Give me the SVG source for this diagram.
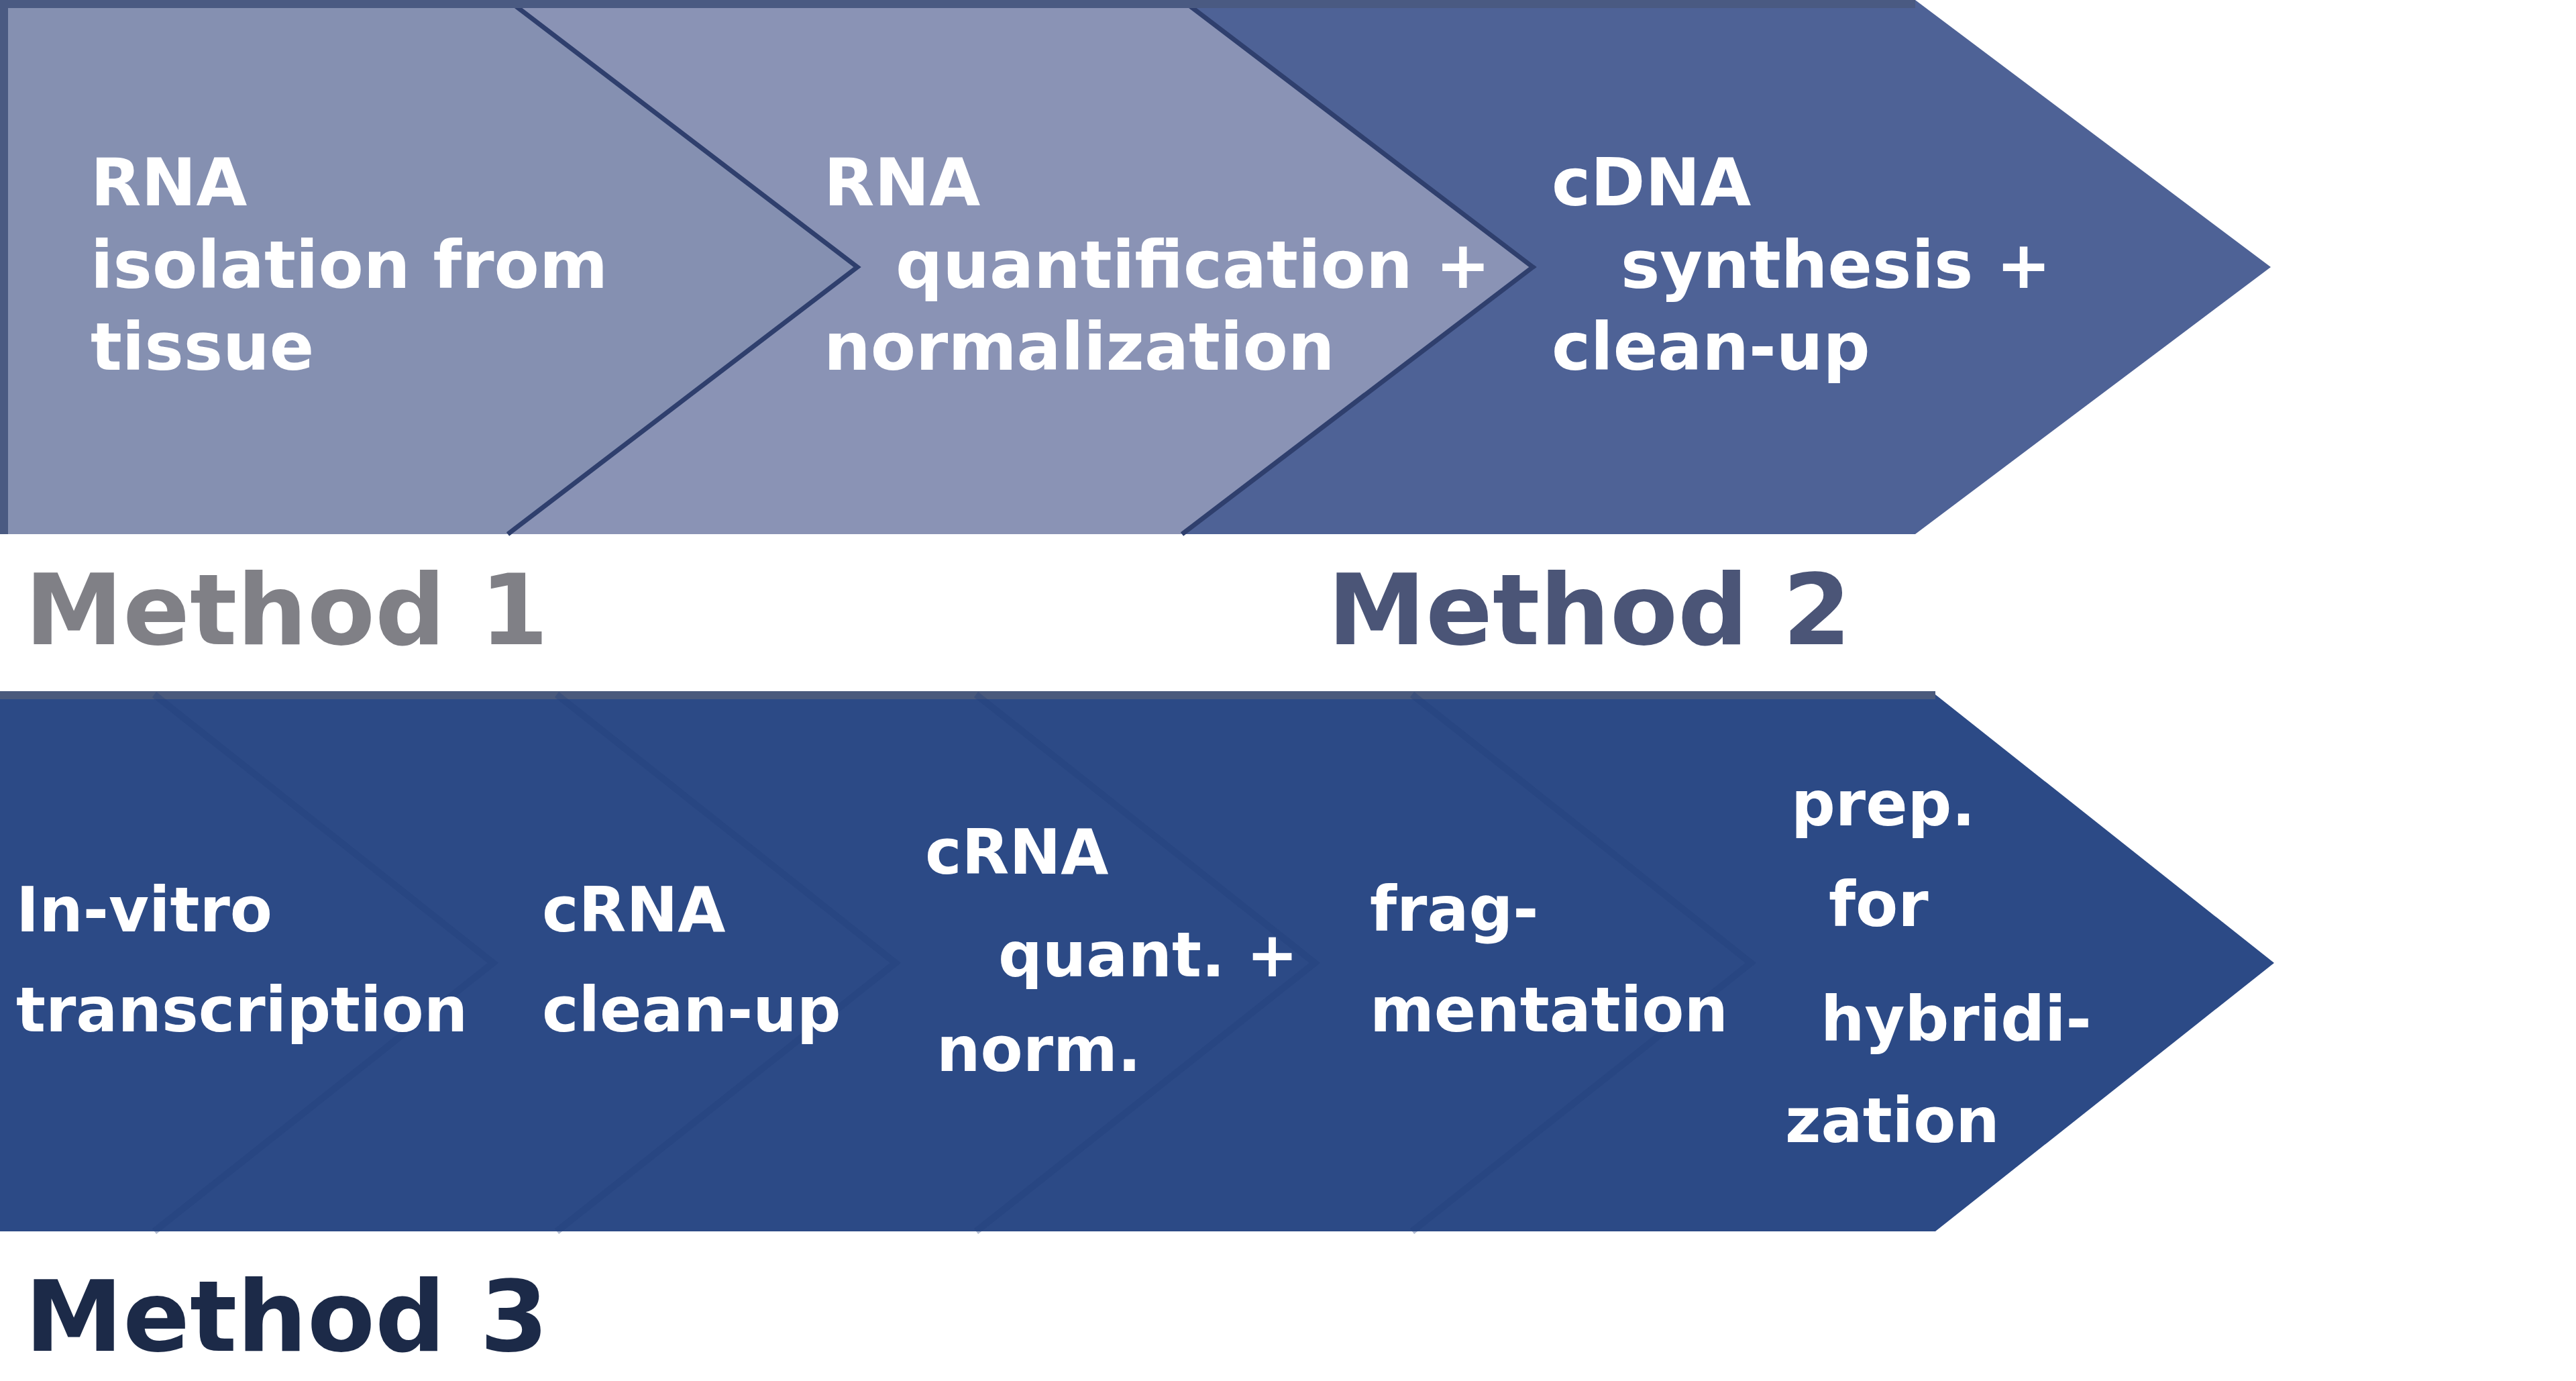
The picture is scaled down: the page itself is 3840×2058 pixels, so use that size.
<svg xmlns="http://www.w3.org/2000/svg" width="3840" height="2058" viewBox="0 0 3840 2058">
<style>
.lbl{font-family:"DejaVu Sans","Verdana",sans-serif;font-weight:bold;fill:#ffffff}
.top{font-size:98px}
.bot{font-size:92px}
.method{font-family:"DejaVu Sans","Verdana",sans-serif;font-weight:bold;font-size:147px}
.sep{fill:none;stroke:#2f3f6d;stroke-width:7;stroke-linejoin:miter}
.faint{fill:none;stroke:#22407a;stroke-width:10;opacity:0.35}
</style>
<rect x="0" y="0" width="3840" height="2058" fill="#ffffff"/>

<g id="top-band">
  <g id="step-cdna">
    <polygon points="0,0 2855,0 3385,398 2855,796 0,796" fill="#4e6296"/>
    <text class="lbl top" x="2313" y="306">cDNA</text>
    <text class="lbl top" x="2416" y="429">synthesis +</text>
    <text class="lbl top" x="2313" y="551">clean-up</text>
  </g>
  <g id="step-rna-quant">
    <polygon points="0,0 1762,0 2285,398 1762,796 0,796" fill="#8a93b5"/>
    <polyline class="sep" points="1762,0 2285,398 1762,796"/>
    <text class="lbl top" x="1228" y="306">RNA</text>
    <text class="lbl top" x="1335" y="429">quantification +</text>
    <text class="lbl top" x="1228" y="551">normalization</text>
  </g>
  <g id="step-rna-isolation">
    <polygon points="0,0 757,0 1278,398 757,796 0,796" fill="#8590b1"/>
    <polyline class="sep" points="757,0 1278,398 757,796"/>
    <text class="lbl top" x="135" y="306">RNA</text>
    <text class="lbl top" x="135" y="429">isolation from</text>
    <text class="lbl top" x="135" y="551">tissue</text>
  </g>
  <rect x="0" y="0" width="2855" height="12" fill="#4a5a82"/>
  <rect x="0" y="0" width="12" height="796" fill="#4a5a82"/>
</g>

<g id="method-labels">
  <text class="method" x="37" y="960" fill="#808086">Method 1</text>
  <text class="method" x="1979" y="960" fill="#4b5577">Method 2</text>
  <text class="method" x="37" y="2013" fill="#1c2a48">Method 3</text>
</g>

<g id="bottom-band">
  <polygon points="0,1035 2885,1035 3390,1435 2885,1835 0,1835" fill="#2c4a86"/>
  <rect x="0" y="1030" width="2885" height="12" fill="#4b5a7c"/>
  <g id="faint-dividers">
    <polyline class="faint" points="230,1035 735,1435 230,1835"/>
    <polyline class="faint" points="830,1035 1335,1435 830,1835"/>
    <polyline class="faint" points="1455,1035 1960,1435 1455,1835"/>
    <polyline class="faint" points="2105,1035 2610,1435 2105,1835"/>
  </g>
  <g id="step-ivt">
    <text class="lbl bot" x="24" y="1388">In-vitro</text>
    <text class="lbl bot" x="24" y="1537">transcription</text>
  </g>
  <g id="step-crna-cleanup">
    <text class="lbl bot" x="808" y="1388">cRNA</text>
    <text class="lbl bot" x="808" y="1537">clean-up</text>
  </g>
  <g id="step-crna-quant">
    <text class="lbl bot" x="1379" y="1302">cRNA</text>
    <text class="lbl bot" x="1488" y="1455">quant. +</text>
    <text class="lbl bot" x="1396" y="1596">norm.</text>
  </g>
  <g id="step-fragmentation">
    <text class="lbl bot" x="2042" y="1387">frag-</text>
    <text class="lbl bot" x="2042" y="1537">mentation</text>
  </g>
  <g id="step-prep">
    <text class="lbl bot" x="2670" y="1230">prep.</text>
    <text class="lbl bot" x="2726" y="1380">for</text>
    <text class="lbl bot" x="2714" y="1551">hybridi-</text>
    <text class="lbl bot" x="2661" y="1702">zation</text>
  </g>
</g>
</svg>
